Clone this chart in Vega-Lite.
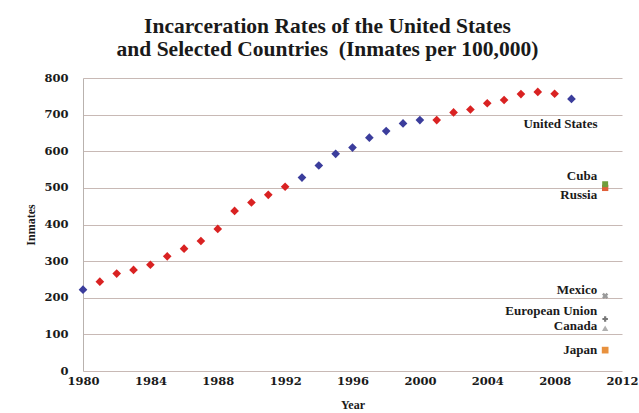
{
  "$schema": "https://vega.github.io/schema/vega-lite/v6.json",
  "autosize": "none",
  "width": 539,
  "height": 293,
  "padding": {"left": 83, "top": 78, "right": 17, "bottom": 42},
  "background": "white",
  "title": {
    "text": ["Incarceration Rates of the United States", "and Selected Countries\u00a0 (Inmates per 100,000)"],
    "font": "Liberation Serif",
    "fontSize": 21.5,
    "fontWeight": "bold",
    "color": "#1a1a1a",
    "anchor": "middle",
    "dx": -25,
    "offset": 12,
    "lineHeight": 23
  },
  "data": {
    "values": [
      {"country": "United States", "year": 1980, "rate": 222, "party": "D"},
      {"country": "United States", "year": 1981, "rate": 244, "party": "R"},
      {"country": "United States", "year": 1982, "rate": 266, "party": "R"},
      {"country": "United States", "year": 1983, "rate": 276, "party": "R"},
      {"country": "United States", "year": 1984, "rate": 290, "party": "R"},
      {"country": "United States", "year": 1985, "rate": 313, "party": "R"},
      {"country": "United States", "year": 1986, "rate": 334, "party": "R"},
      {"country": "United States", "year": 1987, "rate": 355, "party": "R"},
      {"country": "United States", "year": 1988, "rate": 388, "party": "R"},
      {"country": "United States", "year": 1989, "rate": 437, "party": "R"},
      {"country": "United States", "year": 1990, "rate": 460, "party": "R"},
      {"country": "United States", "year": 1991, "rate": 481, "party": "R"},
      {"country": "United States", "year": 1992, "rate": 503, "party": "R"},
      {"country": "United States", "year": 1993, "rate": 528, "party": "D"},
      {"country": "United States", "year": 1994, "rate": 561, "party": "D"},
      {"country": "United States", "year": 1995, "rate": 593, "party": "D"},
      {"country": "United States", "year": 1996, "rate": 610, "party": "D"},
      {"country": "United States", "year": 1997, "rate": 637, "party": "D"},
      {"country": "United States", "year": 1998, "rate": 655, "party": "D"},
      {"country": "United States", "year": 1999, "rate": 676, "party": "D"},
      {"country": "United States", "year": 2000, "rate": 685, "party": "D"},
      {"country": "United States", "year": 2001, "rate": 685, "party": "R"},
      {"country": "United States", "year": 2002, "rate": 706, "party": "R"},
      {"country": "United States", "year": 2003, "rate": 714, "party": "R"},
      {"country": "United States", "year": 2004, "rate": 731, "party": "R"},
      {"country": "United States", "year": 2005, "rate": 740, "party": "R"},
      {"country": "United States", "year": 2006, "rate": 756, "party": "R"},
      {"country": "United States", "year": 2007, "rate": 762, "party": "R"},
      {"country": "United States", "year": 2008, "rate": 757, "party": "R"},
      {"country": "United States", "year": 2009, "rate": 743, "party": "D"},
      {"country": "Cuba", "year": 2011, "rate": 510},
      {"country": "Russia", "year": 2011, "rate": 500},
      {"country": "Mexico", "year": 2011, "rate": 205},
      {"country": "European Union", "year": 2011, "rate": 142},
      {"country": "Canada", "year": 2011, "rate": 117},
      {"country": "Japan", "year": 2011, "rate": 57}
    ]
  },
  "encoding": {
    "x": {
      "field": "year",
      "type": "quantitative",
      "scale": {"domain": [1980, 2012], "nice": false, "zero": false},
      "axis": {
        "values": [1980, 1984, 1988, 1992, 1996, 2000, 2004, 2008, 2012],
        "format": "d",
        "title": "Year",
        "grid": false,
        "ticks": false,
        "domain": false,
        "labelFont": "DejaVu Serif",
        "labelFontWeight": "bold",
        "labelFontSize": 11.5,
        "labelColor": "#1a1a1a",
        "labelPadding": 4,
        "labelFlush": false,
        "titleFont": "Liberation Serif",
        "titleFontWeight": "bold",
        "titleFontSize": 12,
        "titleColor": "#1a1a1a",
        "titlePadding": 13
      }
    },
    "y": {
      "field": "rate",
      "type": "quantitative",
      "scale": {"domain": [0, 800], "nice": false},
      "axis": {
        "values": [0, 100, 200, 300, 400, 500, 600, 700, 800],
        "title": "Inmates",
        "grid": true,
        "gridColor": "#c8b9b5",
        "gridWidth": 1.2,
        "ticks": false,
        "domain": true,
        "domainColor": "#b9b2ae",
        "labelFont": "DejaVu Serif",
        "labelFontWeight": "bold",
        "labelFontSize": 11.5,
        "labelColor": "#1a1a1a",
        "labelPadding": 15,
        "titleFont": "Liberation Serif",
        "titleFontWeight": "bold",
        "titleFontSize": 12,
        "titleColor": "#1a1a1a",
        "titlePadding": 6
      }
    }
  },
  "layer": [
    {
      "transform": [{"filter": "datum.country == 'United States'"}],
      "mark": {"type": "point", "shape": "diamond", "filled": true, "size": 75, "opacity": 1},
      "encoding": {
        "color": {
          "field": "party",
          "type": "nominal",
          "scale": {"domain": ["D", "R"], "range": ["#3b3d9c", "#d92222"]},
          "legend": null
        }
      }
    },
    {
      "transform": [{"filter": "datum.country == 'Russia'"}],
      "mark": {"type": "point", "shape": "square", "filled": true, "size": 40, "color": "#e0603a", "opacity": 1},
      "encoding": {}
    },
    {
      "transform": [{"filter": "datum.country == 'Cuba'"}],
      "mark": {"type": "point", "shape": "square", "filled": true, "size": 35, "color": "#6f9e3c", "opacity": 1},
      "encoding": {}
    },
    {
      "transform": [{"filter": "datum.country == 'Mexico'"}],
      "mark": {"type": "point", "shape": "cross", "angle": 45, "filled": true, "size": 40, "color": "#9a9a9a", "opacity": 1},
      "encoding": {}
    },
    {
      "transform": [{"filter": "datum.country == 'European Union'"}],
      "mark": {"type": "point", "shape": "cross", "filled": true, "size": 30, "color": "#777777", "opacity": 1},
      "encoding": {}
    },
    {
      "transform": [{"filter": "datum.country == 'Canada'"}],
      "mark": {"type": "point", "shape": "triangle-up", "filled": true, "size": 40, "color": "#b0b0b0", "opacity": 1},
      "encoding": {}
    },
    {
      "transform": [{"filter": "datum.country == 'Japan'"}],
      "mark": {"type": "point", "shape": "square", "filled": true, "size": 45, "color": "#e8913e", "opacity": 1},
      "encoding": {}
    },
    {
      "transform": [{"filter": "datum.country == 'United States' && datum.year == 2009"}],
      "mark": {"type": "text", "align": "right", "baseline": "middle", "dx": 26, "dy": 25, "font": "Liberation Serif", "fontWeight": "bold", "fontSize": 13, "color": "#1a1a1a"},
      "encoding": {"text": {"field": "country"}}
    },
    {
      "transform": [{"filter": "datum.country == 'Cuba'"}],
      "mark": {"type": "text", "align": "right", "baseline": "middle", "dx": -8, "dy": -8, "font": "Liberation Serif", "fontWeight": "bold", "fontSize": 13, "color": "#1a1a1a"},
      "encoding": {"text": {"field": "country"}}
    },
    {
      "transform": [{"filter": "datum.country == 'Russia'"}],
      "mark": {"type": "text", "align": "right", "baseline": "middle", "dx": -8, "dy": 7, "font": "Liberation Serif", "fontWeight": "bold", "fontSize": 13, "color": "#1a1a1a"},
      "encoding": {"text": {"field": "country"}}
    },
    {
      "transform": [{"filter": "datum.country == 'Mexico'"}],
      "mark": {"type": "text", "align": "right", "baseline": "middle", "dx": -8, "dy": -6, "font": "Liberation Serif", "fontWeight": "bold", "fontSize": 13, "color": "#1a1a1a"},
      "encoding": {"text": {"field": "country"}}
    },
    {
      "transform": [{"filter": "datum.country == 'European Union'"}],
      "mark": {"type": "text", "align": "right", "baseline": "middle", "dx": -8, "dy": -8, "font": "Liberation Serif", "fontWeight": "bold", "fontSize": 13, "color": "#1a1a1a"},
      "encoding": {"text": {"field": "country"}}
    },
    {
      "transform": [{"filter": "datum.country == 'Canada'"}],
      "mark": {"type": "text", "align": "right", "baseline": "middle", "dx": -8, "dy": -2, "font": "Liberation Serif", "fontWeight": "bold", "fontSize": 13, "color": "#1a1a1a"},
      "encoding": {"text": {"field": "country"}}
    },
    {
      "transform": [{"filter": "datum.country == 'Japan'"}],
      "mark": {"type": "text", "align": "right", "baseline": "middle", "dx": -8, "dy": 0, "font": "Liberation Serif", "fontWeight": "bold", "fontSize": 13, "color": "#1a1a1a"},
      "encoding": {"text": {"field": "country"}}
    }
  ],
  "config": {
    "view": {"stroke": null}
  }
}
